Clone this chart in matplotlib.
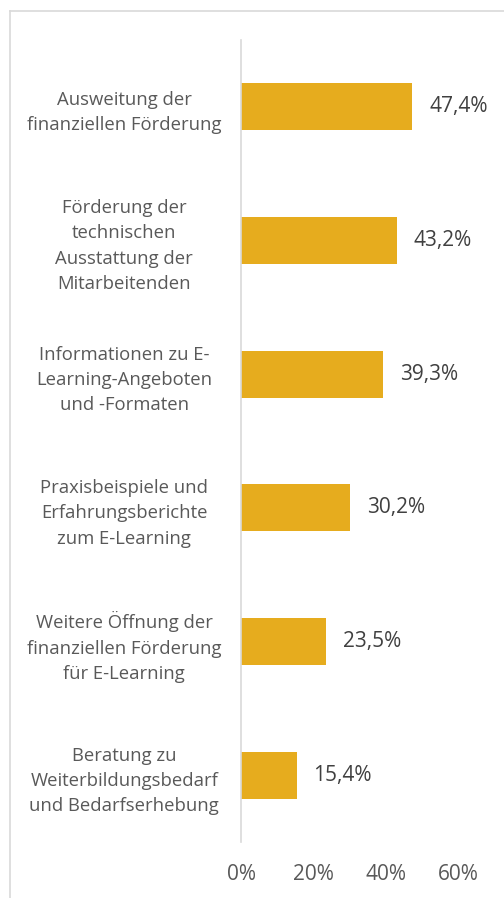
import matplotlib.pyplot as plt
from matplotlib.lines import Line2D

labels = [
    "Ausweitung der\nfinanziellen Förderung",
    "Förderung der\ntechnischen\nAusstattung der\nMitarbeitenden",
    "Informationen zu E-\nLearning-Angeboten\nund -Formaten",
    "Praxisbeispiele und\nErfahrungsberichte\nzum E-Learning",
    "Weitere Öffnung der\nfinanziellen Förderung\nfür E-Learning",
    "Beratung zu\nWeiterbildungsbedarf\nund Bedarfserhebung",
]
values = [47.4, 43.2, 39.3, 30.2, 23.5, 15.4]
xticks = [0, 20, 40, 60]

plt.rcParams['font.family'] = ['Open Sans', 'DejaVu Sans']
txt = "#595959"

fig = plt.figure(figsize=(5.04, 8.98), dpi=100)
ax = fig.add_axes([241/504, 1-842/898, (458-241)/504, (842-40)/898])

y = list(range(len(values)))
bars = ax.barh(y, values, height=0.35, color="#E6AC1E")

ax.set_xlim(0, 60)
ax.set_ylim(len(values)-0.5, -0.5)
ax.set_xticks(xticks)
ax.set_xticklabels([f"{t}%" for t in xticks], fontsize=15, color=txt)
ax.set_yticks(y)
ax.set_yticklabels(labels, fontsize=13.3, color=txt, ha='center', linespacing=1.52)
ax.tick_params(axis='y', length=0, pad=84)
ax.tick_params(axis='x', length=0, pad=16)

for s in ['top', 'right', 'bottom']:
    ax.spines[s].set_visible(False)
ax.spines['left'].set_color("#D9D9D9")
ax.spines['left'].set_linewidth(1.2)

for b, v in zip(bars, values):
    ax.annotate(f"{v:.1f}".replace(".", ",") + "%",
                (b.get_width(), b.get_y() + b.get_height()/2),
                xytext=(12, 0), textcoords='offset points',
                va='center', ha='left', fontsize=15, color="#404040")

# outer frame (only top and left visible)
fig.add_artist(Line2D([9.5/504, 1], [1-10.5/898, 1-10.5/898], color="#D9D9D9", lw=1.2))
fig.add_artist(Line2D([9.5/504, 9.5/504], [0, 1-10.5/898], color="#D9D9D9", lw=1.2))

fig.savefig("out.png", dpi=100)
